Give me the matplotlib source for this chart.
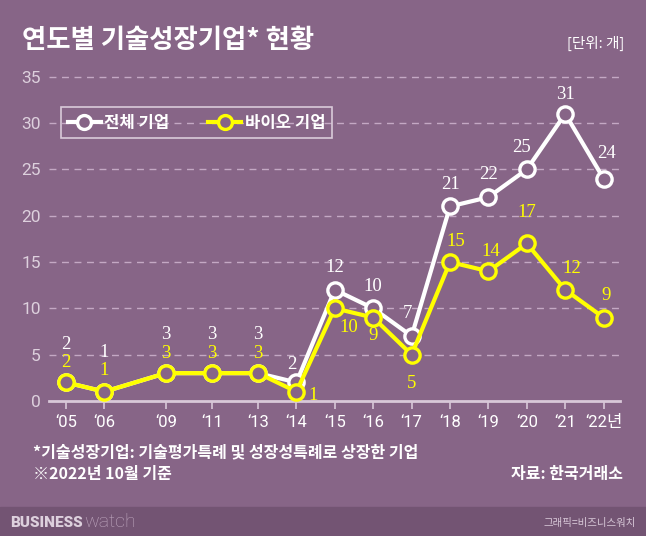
import numpy as np
import matplotlib.pyplot as plt
from matplotlib.lines import Line2D

plt.rcParams['font.family'] = ['Noto Sans CJK KR', 'DejaVu Sans']

# data
years = ['‘05', '‘06', '‘09', '‘11', '‘13', '‘14', '‘15', '‘16', '‘17', '‘18', '‘19', '‘20', '‘21', '‘22년']
xpos = [0, 1, 2.6, 3.8, 5, 6, 7, 8, 9, 10, 11, 12, 13, 14]
total = [2, 1, 3, 3, 3, 2, 12, 10, 7, 21, 22, 25, 31, 24]
bio = [2, 1, 3, 3, 3, 1, 10, 9, 5, 15, 14, 17, 12, 9]

# label offsets (points)
off_total = [(0, 27), (0, 28), (0, 28), (0, 28), (0, 28), (-3, 13), (0, 16), (0, 16), (-3, 16), (0, 16), (0, 16), (-4, 16), (0, 14), (2, 18)]
off_bio = [(0, 14), (0, 15), (0, 14), (0, 14), (0, 14), (12, -3), (10, -14), (0, -13), (0, -21), (4, 15), (2, 14), (0, 22), (5, 15), (2, 16)]

bg = '#876587'
white = '#ffffff'
yellow = '#ffff00'

fig = plt.figure(figsize=(6.46, 5.36), dpi=100)
fig.patch.set_facecolor(bg)
ax = fig.add_axes([0.076, 0.252, 0.884, 0.622])
ax.set_facecolor(bg)

ax.set_xlim(-0.44, 14.43)
ax.set_ylim(0, 36)

ax.plot(xpos, total, color=white, lw=3, marker='o', ms=11, mfc=bg, mec=white, mew=2.4, zorder=3)
ax.plot(xpos, bio, color=yellow, lw=3, marker='o', ms=11, mfc=bg, mec=yellow, mew=2.4, zorder=4)

for x, v, o in zip(xpos, total, off_total):
    ax.annotate(str(v), (x, v), xytext=o, textcoords='offset points', ha='center', va='center',
                color=white, fontsize=13.5, family='Liberation Serif', zorder=5)
for x, v, o in zip(xpos, bio, off_bio):
    ax.annotate(str(v), (x, v), xytext=o, textcoords='offset points', ha='center', va='center',
                color=yellow, fontsize=13.5, family='Liberation Serif', zorder=5)

ax.set_yticks(range(0, 36, 5))
for y in range(5, 36, 5):
    ax.axhline(y, color='#c4a8c4', lw=1, ls=(0, (5, 4)), zorder=1)
ax.set_xticks(xpos)
ax.set_xticklabels(years)
ax.tick_params(axis='x', colors='#d8c8d8', labelcolor=white, length=6, width=1.2, labelsize=12, pad=4)
ax.tick_params(axis='y', length=0, labelcolor='#ddd0dd', labelsize=12.5, pad=6)
for lab in ax.get_xticklabels() + ax.get_yticklabels():
    lab.set_family(['Roboto', 'Noto Sans CJK KR'])
for s in ['top', 'right', 'left']:
    ax.spines[s].set_visible(False)
ax.spines['bottom'].set_color('#d8c8d8')
ax.spines['bottom'].set_linewidth(2)

handles = [Line2D([], [], color=white, lw=3, marker='o', ms=10, mfc=bg, mec=white, mew=2.4),
           Line2D([], [], color=yellow, lw=3, marker='o', ms=10, mfc=bg, mec=yellow, mew=2.4)]
leg = fig.legend(handles, ['전체 기업', '바이오 기업'], loc='upper left', bbox_to_anchor=(61 / 646, 1 - 107 / 536),
                 ncol=2, frameon=True, fancybox=False, handlelength=2.0, columnspacing=2.3,
                 handletextpad=0.2, borderpad=0.4, borderaxespad=0, prop={'weight': 'bold', 'size': 12})
leg.get_frame().set_facecolor('none')
leg.get_frame().set_edgecolor('#eee4ee')
leg.get_frame().set_linewidth(1.2)
for t in leg.get_texts():
    t.set_color(white)

fig.text(22 / 646, 1 - 41 / 536, '연도별 기술성장기업* 현황', color=white, fontsize=19, weight='bold', va='center')
fig.text(624 / 646, 1 - 43 / 536, '[단위: 개]', color=white, fontsize=10.5, ha='right', va='center')
fig.text(33 / 646, 1 - 452 / 536, '*기술성장기업: 기술평가특례 및 성장성특례로 상장한 기업', color=white, fontsize=11.5, weight='bold', va='center')
fig.text(33 / 646, 1 - 474 / 536, '※2022년 10월 기준', color=white, fontsize=11.5, weight='bold', va='center')
fig.text(623 / 646, 1 - 474 / 536, '자료: 한국거래소', color=white, fontsize=11.5, weight='bold', ha='right', va='center')

# bottom strip
fig.patches.append(plt.Rectangle((0, 0), 1, 29 / 536, transform=fig.transFigure, color='#735473', zorder=0))
fig.text(10 / 646, 1 - 523 / 536, 'BUSINESS', color='#ddd0dd', fontsize=11, weight='heavy', va='center', family='Roboto')
fig.text(84 / 646, 1 - 522 / 536, 'watch', color='#c0a8c0', fontsize=14, weight='light', va='center', family='Roboto')
fig.text(636 / 646, 1 - 523 / 536, '그래픽=비즈니스워치', color='#d8c8d8', fontsize=7.5, ha='right', va='center')

fig.savefig('out.png', dpi=100, facecolor=bg)
